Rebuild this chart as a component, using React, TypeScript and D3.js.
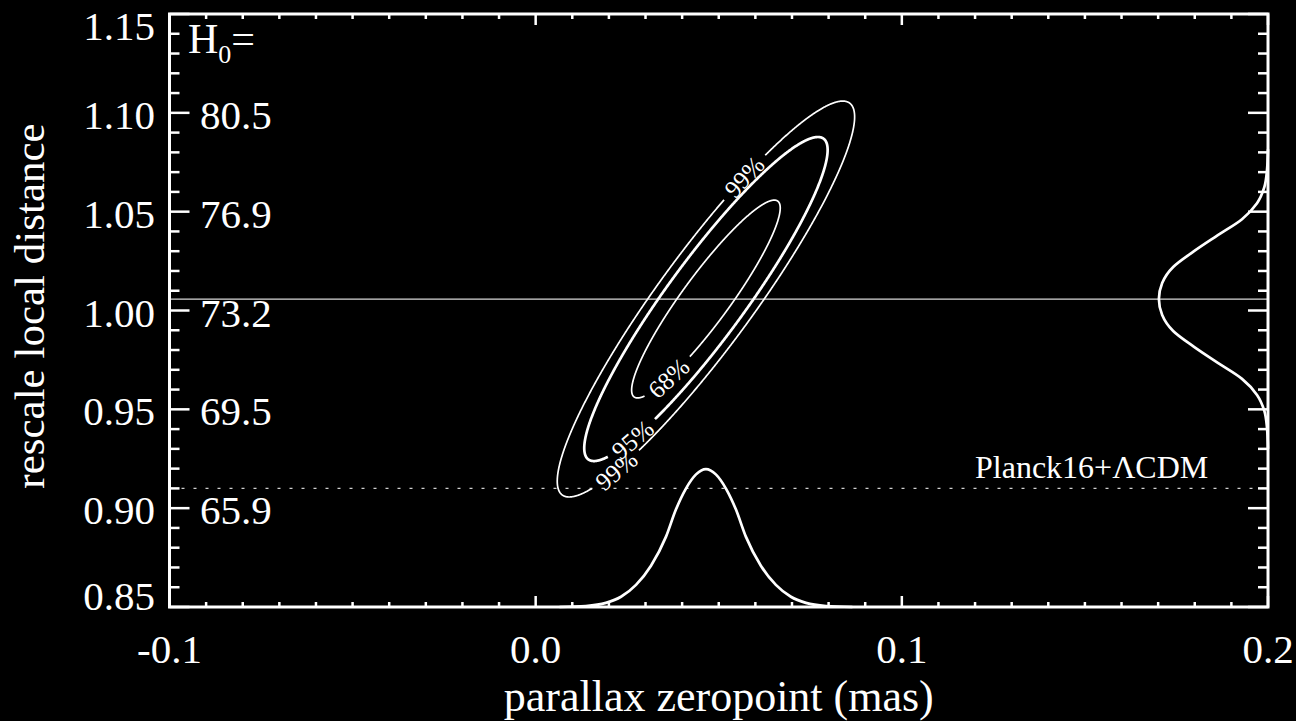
import React from 'react';
import * as d3 from 'd3';

// Axis domains and tick labels
const X_DOMAIN = [-0.1, 0.2];
const Y_DOMAIN = [0.85, 1.15];
const X_MAJOR = [-0.1, 0.0, 0.1, 0.2];
const X_TICK_LABELS = ['-0.1', '0.0', '0.1', '0.2'];
const Y_MAJOR = [0.85, 0.9, 0.95, 1.0, 1.05, 1.1, 1.15];
const Y_TICK_LABELS = ['0.85', '0.90', '0.95', '1.00', '1.05', '1.10', '1.15'];
const H0_TICKS = [0.9, 0.95, 1.0, 1.05, 1.1];
const H0_LABELS = ['65.9', '69.5', '73.2', '76.9', '80.5'];

// Joint constraint: best fit, 1-sigma widths and correlation
const BEST_FIT = [0.0465, 1.0058];
const SIGMA = [0.01338, 0.033];
const RHO = 0.92;
const CONTOURS = [
  { label: '99%', chi2: 9.21, width: 1.7, labelAt: [75, 233] },
  { label: '95%', chi2: 6.17, width: 2.7, labelAt: [233] },
  { label: '68%', chi2: 2.3, width: 1.7, labelAt: [240] },
];

// Reference lines
const LOCAL_SCALE = 1.0058;
const PLANCK_SCALE = 0.91;

// Marginal of the parallax zeropoint (drawn up from the bottom axis)
const ZP_X = [0.0065, 0.0137, 0.0192, 0.0233, 0.0274, 0.0315, 0.0356, 0.0383, 0.041, 0.0438, 0.0465,
  0.0492, 0.052, 0.0547, 0.0574, 0.0615, 0.0656, 0.0697, 0.0738, 0.0793, 0.0865];
const ZP_Y = [0.85, 0.8505, 0.8521, 0.8552, 0.8612, 0.8709, 0.8856, 0.8993, 0.9098, 0.9171, 0.9198,
  0.9171, 0.9098, 0.8993, 0.8856, 0.8709, 0.8612, 0.8552, 0.8521, 0.8505, 0.85];

// Marginal of the distance scale (drawn in from the right axis)
const DS_Y = [0.93, 0.9412, 0.9492, 0.9573, 0.9654, 0.9735, 0.9816, 0.9896, 0.9977, 1.0058,
  1.0139, 1.022, 1.03, 1.0381, 1.0462, 1.0543, 1.0624, 1.0704, 1.0816];
const DS_X = [0.2, 0.1997, 0.199, 0.197, 0.1929, 0.1863, 0.1798, 0.1741, 0.1711, 0.1702,
  0.1711, 0.1741, 0.1798, 0.1863, 0.1929, 0.197, 0.199, 0.1997, 0.2];

const W = 1296;
const H = 721;
const LEFT = 169.5;
const RIGHT = 1268;
const TOP = 14;
const BOTTOM = 607;
const FONT = '"Liberation Serif", "Times New Roman", serif';

export default function App() {
  const x = d3.scaleLinear().domain(X_DOMAIN).range([LEFT, RIGHT]);
  const y = d3.scaleLinear().domain(Y_DOMAIN).range([BOTTOM, TOP]);

  const xMinorTicks = d3.range(-10, 21).map((v) => v / 100);
  const yMinorTicks = d3.range(85, 116).map((v) => v / 100);

  const isMajor = (v: number, step: number) => Math.abs(v / step - Math.round(v / step)) < 1e-6;

  // Contour geometry from the correlated 2-D Gaussian
  const s = Math.sqrt(1 - RHO * RHO);
  const pt = (k: number, tDeg: number): [number, number] => {
    const t = (tDeg * Math.PI) / 180;
    const c = Math.cos(t);
    const sn = Math.sin(t);
    return [
      x(BEST_FIT[0] + k * SIGMA[0] * c),
      y(BEST_FIT[1] + k * SIGMA[1] * (RHO * c + s * sn)),
    ];
  };

  const LABEL_SIZE = 25;
  const GAP = 30;
  const line = d3.line();

  const contourEls = CONTOURS.map((lev, li) => {
    const k = Math.sqrt(lev.chi2);
    const labels = lev.labelAt.map((t) => {
      const p = pt(k, t);
      const a = pt(k, t - 0.5);
      const b = pt(k, t + 0.5);
      let ang = (Math.atan2(b[1] - a[1], b[0] - a[0]) * 180) / Math.PI;
      if (ang > 90) ang -= 180;
      if (ang <= -90) ang += 180;
      return { p, ang };
    });
    const t0 = lev.labelAt[0];
    const segs: [number, number][][] = [];
    let cur: [number, number][] = [];
    for (let t = t0; t <= t0 + 360; t += 0.25) {
      const p = pt(k, t);
      const inGap = labels.some((l) => Math.hypot(p[0] - l.p[0], p[1] - l.p[1]) < GAP);
      if (inGap) {
        if (cur.length > 1) segs.push(cur);
        cur = [];
      } else cur.push(p);
    }
    if (cur.length > 1) segs.push(cur);
    return (
      <g key={li}>
        {segs.map((sg, i) => (
          <path key={i} d={line(sg) || ''} fill="none" stroke="#fff" strokeWidth={lev.width} />
        ))}
        {labels.map((l, i) => (
          <text
            key={`l${i}`}
            transform={`translate(${l.p[0]},${l.p[1]}) rotate(${l.ang})`}
            textAnchor="middle"
            dominantBaseline="central"
            fontSize={LABEL_SIZE}
            fill="#fff"
          >
            {lev.label}
          </text>
        ))}
      </g>
    );
  });

  const zpLine = d3
    .line<number>()
    .x((_, i) => x(ZP_X[i]))
    .y((d) => y(d))
    .curve(d3.curveMonotoneX);
  const dsLine = d3
    .line<number>()
    .x((d) => x(d))
    .y((_, i) => y(DS_Y[i]))
    .curve(d3.curveMonotoneY);

  const clampBase = (v: number) => Math.max(40, Math.min(610, y(v) + 16));

  return (
    <svg
      width={W}
      height={H}
      style={{ position: 'fixed', left: 0, top: 0, background: '#000' }}
      fontFamily={FONT}
    >
      <rect x={0} y={0} width={W} height={H} fill="#000" />

      {/* reference lines */}
      <line x1={LEFT} x2={RIGHT} y1={y(LOCAL_SCALE)} y2={y(LOCAL_SCALE)} stroke="#d8d8d8" strokeWidth={1.3} />
      <line
        x1={LEFT}
        x2={RIGHT}
        y1={y(PLANCK_SCALE)}
        y2={y(PLANCK_SCALE)}
        stroke="#d0d0d0"
        strokeWidth={1.4}
        strokeDasharray="3 9"
      />
      <text x={975} y={478} fontSize={32} fill="#fff">
        Planck16+ΛCDM
      </text>

      {/* marginals */}
      <path d={zpLine(ZP_Y) || ''} fill="none" stroke="#fff" strokeWidth={2.7} />
      <path d={dsLine(DS_X) || ''} fill="none" stroke="#fff" strokeWidth={2.7} />

      {/* confidence contours */}
      {contourEls}

      {/* frame */}
      <rect x={LEFT} y={TOP} width={RIGHT - LEFT} height={BOTTOM - TOP} fill="none" stroke="#fff" strokeWidth={3} />

      {/* x ticks bottom & top */}
      {xMinorTicks.map((v) => {
        const len = isMajor(v, 0.1) ? 11 : 5;
        const px = x(v);
        return (
          <g key={`xt${v}`}>
            <line x1={px} x2={px} y1={BOTTOM} y2={BOTTOM - len} stroke="#fff" strokeWidth={2.5} />
            <line x1={px} x2={px} y1={TOP} y2={TOP + len} stroke="#fff" strokeWidth={2.5} />
          </g>
        );
      })}
      {/* y ticks left & right */}
      {yMinorTicks.map((v) => {
        const len = isMajor(v, 0.05) ? 20 : 10;
        const py = y(v);
        return (
          <g key={`yt${v}`}>
            <line x1={LEFT} x2={LEFT + len} y1={py} y2={py} stroke="#fff" strokeWidth={2.5} />
            <line x1={RIGHT} x2={RIGHT - len} y1={py} y2={py} stroke="#fff" strokeWidth={2.5} />
          </g>
        );
      })}

      {/* tick labels */}
      {X_MAJOR.map((v, i) => (
        <text key={`xl${i}`} x={x(v)} y={663} textAnchor="middle" fontSize={41} fill="#fff">
          {X_TICK_LABELS[i]}
        </text>
      ))}
      {Y_MAJOR.map((v, i) => (
        <text key={`yl${i}`} x={155} y={clampBase(v)} textAnchor="end" fontSize={41} fill="#fff">
          {Y_TICK_LABELS[i]}
        </text>
      ))}
      {H0_TICKS.map((v, i) => (
        <text key={`hl${i}`} x={200} y={y(v) + 16} textAnchor="start" fontSize={41} fill="#fff">
          {H0_LABELS[i]}
        </text>
      ))}
      <text x={188} y={53} fontSize={42} fill="#fff">
        H
        <tspan fontSize={26} dy={10}>
          0
        </tspan>
        <tspan dy={-10}>=</tspan>
      </text>

      {/* axis titles */}
      <text x={(LEFT + RIGHT) / 2} y={711} textAnchor="middle" fontSize={44} fill="#fff">
        parallax zeropoint (mas)
      </text>
      <text transform="translate(43.5,306) rotate(-90)" textAnchor="middle" fontSize={43} fill="#fff">
        rescale local distance
      </text>
    </svg>
  );
}
